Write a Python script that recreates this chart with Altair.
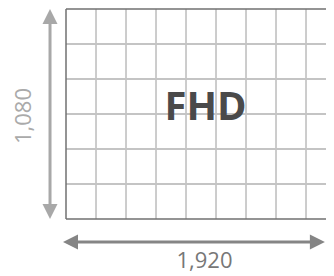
import altair as alt
import pandas as pd

# Grid of the FHD screen diagram (column / row units)
grid_cols = [0, 1, 2, 3, 4, 5, 6, 7, 8, 9]
grid_rows = [0, 1, 2, 3, 4, 5, 6]
center_label = ["FHD"]
width_label = ["1,920"]
height_label = ["1,080"]

X = alt.Scale(domain=[-58 / 30, 260 / 30])
Y = alt.Scale(domain=[-1 / 35, 267 / 35], reverse=True)

inner_v = pd.DataFrame({"c": grid_cols[1:], "r0": grid_rows[0], "r1": grid_rows[-1]})
inner_h = pd.DataFrame({"r": grid_rows[1:-1], "c0": grid_cols[0], "c1": grid_cols[-1]})
border_v = pd.DataFrame({"c": [grid_cols[0]], "r0": grid_rows[0], "r1": grid_rows[-1]})
border_h = pd.DataFrame({"r": [grid_rows[0], grid_rows[-1]], "c0": grid_cols[0], "c1": grid_cols[-1]})

vlines = alt.Chart(inner_v).mark_rule(color="#9a9a9a", strokeWidth=1).encode(
    x=alt.X("c:Q", scale=X, axis=None), y=alt.Y("r0:Q", scale=Y, axis=None), y2="r1:Q")
hlines = alt.Chart(inner_h).mark_rule(color="#c4c4c4", strokeWidth=2).encode(
    y=alt.Y("r:Q", scale=Y, axis=None), x=alt.X("c0:Q", scale=X, axis=None), x2="c1:Q")
bv = alt.Chart(border_v).mark_rule(color="#707070", strokeWidth=1.5).encode(
    x=alt.X("c:Q", scale=X, axis=None), y=alt.Y("r0:Q", scale=Y, axis=None), y2="r1:Q")
bh = alt.Chart(border_h).mark_rule(color="#707070", strokeWidth=1.5).encode(
    y=alt.Y("r:Q", scale=Y, axis=None), x=alt.X("c0:Q", scale=X, axis=None), x2="c1:Q")

# vertical arrow (height)
va = pd.DataFrame({"c": [-0.533], "r0": [grid_rows[0]], "r1": [grid_rows[-1]]})
v_shaft = alt.Chart(va).mark_rule(color="#a8a8a8", strokeWidth=3, yOffset=12, y2Offset=-12).encode(
    x=alt.X("c:Q", scale=X, axis=None), y=alt.Y("r0:Q", scale=Y, axis=None), y2="r1:Q")
v_top = alt.Chart(va).mark_point(shape="M0,-1L1,1L-1,1Z", size=225, filled=True, opacity=1,
                                 color="#a8a8a8", yOffset=7.5).encode(
    x=alt.X("c:Q", scale=X, axis=None), y=alt.Y("r0:Q", scale=Y, axis=None))
v_bot = alt.Chart(va).mark_point(shape="M0,1L1,-1L-1,-1Z", size=225, filled=True, opacity=1,
                                 color="#a8a8a8", yOffset=-7.5).encode(
    x=alt.X("c:Q", scale=X, axis=None), y=alt.Y("r1:Q", scale=Y, axis=None))

# horizontal arrow (width)
ha = pd.DataFrame({"r": [6.657], "c0": [-0.1], "c1": [8.63]})
h_shaft = alt.Chart(ha).mark_rule(color="#858585", strokeWidth=3, xOffset=12, x2Offset=-12).encode(
    y=alt.Y("r:Q", scale=Y, axis=None), x=alt.X("c0:Q", scale=X, axis=None), x2="c1:Q")
h_left = alt.Chart(ha).mark_point(shape="M-1,0L1,-1L1,1Z", size=225, filled=True, opacity=1,
                                  color="#858585", xOffset=7.5).encode(
    y=alt.Y("r:Q", scale=Y, axis=None), x=alt.X("c0:Q", scale=X, axis=None))
h_right = alt.Chart(ha).mark_point(shape="M1,0L-1,-1L-1,1Z", size=225, filled=True, opacity=1,
                                   color="#858585", xOffset=-7.5).encode(
    y=alt.Y("r:Q", scale=Y, axis=None), x=alt.X("c1:Q", scale=X, axis=None))

fhd = alt.Chart(pd.DataFrame({"t": center_label, "c": [4.65], "r": [2.83]})).mark_text(
    font="Open Sans", fontWeight="bold", fontSize=40, color="#4a4a4a", baseline="middle", align="center"
).encode(x=alt.X("c:Q", scale=X, axis=None), y=alt.Y("r:Q", scale=Y, axis=None), text="t:N")

wlab = alt.Chart(pd.DataFrame({"t": width_label, "c": [4.617], "r": [7.4]})).mark_text(
    font="Open Sans", fontSize=22, color="#777777", baseline="alphabetic", align="center"
).encode(x=alt.X("c:Q", scale=X, axis=None), y=alt.Y("r:Q", scale=Y, axis=None), text="t:N")

hlab = alt.Chart(pd.DataFrame({"t": height_label, "c": [-1.4], "r": [3.057]})).mark_text(
    font="Open Sans", fontSize=22, color="#aaaaaa", baseline="middle", align="center", angle=270
).encode(x=alt.X("c:Q", scale=X, axis=None), y=alt.Y("r:Q", scale=Y, axis=None), text="t:N")

chart = alt.layer(vlines, hlines, bv, bh, v_shaft, v_top, v_bot, h_shaft, h_left, h_right,
                  fhd, wlab, hlab).properties(
    width=318, height=268, autosize=alt.AutoSizeParams(type="none"), padding=0,
    background="white"
).configure_view(strokeWidth=0, stroke="transparent")

chart.save("out.html", embed_options={"renderer": "svg", "actions": False})
